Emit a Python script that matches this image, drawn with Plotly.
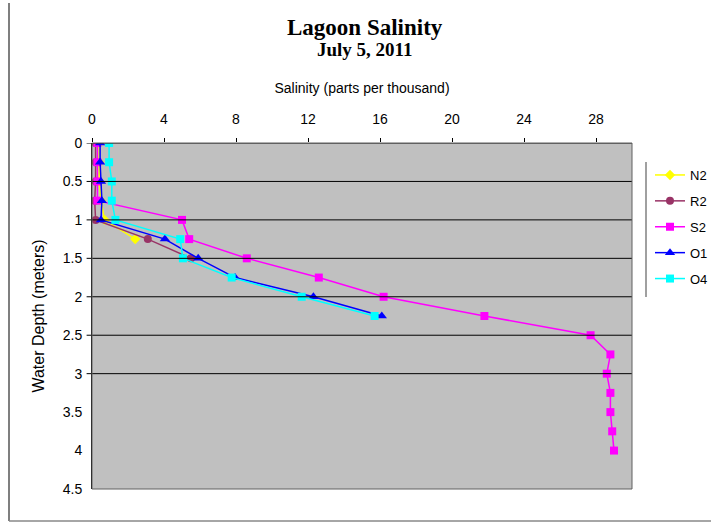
import plotly.graph_objects as go

depths = [0, 0.25, 0.5, 0.75, 1.0, 1.25, 1.5, 1.75, 2.0, 2.25, 2.5, 2.75, 3.0, 3.25, 3.5, 3.75, 4.0]

n2 = [0.4, 0.4, 0.4, 0.5, 0.7, 2.4]
r2 = [0.2, 0.2, 0.2, 0.15, 0.2, 3.1, 5.5]
s2 = [0.3, 0.3, 0.3, 0.3, 5.0, 5.4, 8.6, 12.6, 16.2, 21.8, 27.7, 28.8, 28.6, 28.8, 28.8, 28.9, 29.0]
o1 = [0.45, 0.45, 0.5, 0.55, 0.5, 4.05, 5.9, 7.95, 12.3, 16.1]
o4 = [0.95, 0.95, 1.1, 1.1, 1.3, 4.9, 5.05, 7.76, 11.65, 15.7]

x_ticks = [0, 4, 8, 12, 16, 20, 24, 28]
y_ticks = [0, 0.5, 1, 1.5, 2, 2.5, 3, 3.5, 4, 4.5]
grid_depths = [0, 0.5, 1, 1.5, 2, 2.5, 3]

series = [
    ("N2", n2, "#FFFF00", "diamond", 8),
    ("R2", r2, "#993366", "circle", 8),
    ("S2", s2, "#FF00FF", "square", 8),
    ("O1", o1, "#0000FF", "triangle-up", 9),
    ("O4", o4, "#00FFFF", "square", 8),
]

fig = go.Figure()
for name, vals, color, sym, size in series:
    fig.add_trace(go.Scatter(
        x=vals, y=depths[:len(vals)], name=name, mode="lines+markers",
        legendgroup=name,
        line=dict(color=color, width=1.5),
        marker=dict(color=color, symbol=sym, size=size),
    ))

shapes = []
for d in grid_depths:
    shapes.append(dict(type="line", xref="paper", yref="y", x0=-0.01, x1=1, y0=d, y1=d,
                       line=dict(color="#000000", width=1), layer="above"))
# plot-area border
shapes.append(dict(type="rect", xref="paper", yref="paper", x0=0, x1=1, y0=0, y1=1,
                   line=dict(color="#606060", width=1)))
# legend left border
shapes.append(dict(type="line", xref="paper", yref="paper", x0=554 / 540, x1=554 / 540,
                   y0=(489 - 297) / 346, y1=(489 - 162) / 346,
                   line=dict(color="#808080", width=1.5)))
# chart frame (left and bottom)
shapes.append(dict(type="line", xref="paper", yref="paper", x0=-83 / 540, x1=-83 / 540,
                   y0=-32 / 346, y1=140 / 346 + 1, line=dict(color="#555555", width=1.5)))
shapes.append(dict(type="line", xref="paper", yref="paper", x0=-83 / 540, x1=619 / 540 + 1,
                   y0=-32 / 346, y1=-32 / 346, line=dict(color="#888888", width=1.5)))

fig.update_layout(
    width=711, height=523,
    margin=dict(l=92, r=79, t=143, b=34, autoexpand=False),
    paper_bgcolor="white",
    plot_bgcolor="#C0C0C0",
    font=dict(family="Liberation Sans, Arial", size=13, color="#000000"),
    showlegend=True,
    legend=dict(xref="container", yref="container", x=650 / 711, y=1 - 160 / 523,
                xanchor="left", yanchor="top",
                font=dict(size=13), tracegroupgap=6, bgcolor="rgba(0,0,0,0)"),
    shapes=shapes,
    annotations=[
        dict(text="<b>Lagoon Salinity</b>", xref="paper", yref="paper", x=0.505, y=1 + 115 / 346,
             yanchor="middle", showarrow=False, font=dict(family="Liberation Serif", size=23)),
        dict(text="<b>July 5, 2011</b>", xref="paper", yref="paper", x=0.505, y=1 + 93 / 346,
             yanchor="middle", showarrow=False, font=dict(family="Liberation Serif", size=19)),
    ],
)
fig.update_xaxes(
    side="top", range=[0, 30], tickvals=x_ticks, ticks="outside", ticklen=4,
    tickcolor="#000000", showgrid=False, zeroline=False, showline=False,
    automargin=False, ticklabelstandoff=8, tickfont=dict(size=14),
    title=dict(text="Salinity (parts per thousand)", standoff=14, font=dict(size=14)),
)
fig.update_yaxes(
    range=[4.5, 0], tickvals=y_ticks, ticktext=[str(v) for v in y_ticks], ticks="",
    showgrid=False, zeroline=False, showline=True, linecolor="#000000", linewidth=1,
    automargin=False, ticklabelstandoff=6, tickfont=dict(size=14),
    title=dict(text="Water Depth (meters)", standoff=14, font=dict(size=16)),
)

fig.write_html("out.html", post_script="document.body.style.margin='0';",
               config={"displayModeBar": False})
